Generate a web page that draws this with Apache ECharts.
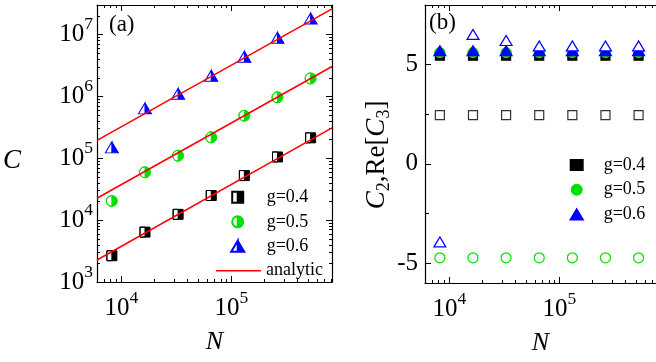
<!DOCTYPE html>
<html><head><meta charset="utf-8">
<script src="https://cdn.jsdelivr.net/npm/echarts@6/dist/echarts.min.js"></script>
<style>html,body{margin:0;padding:0;background:#fff}#c{width:656px;height:362px}</style>
</head><body><div id="c"></div>
<script>
// ---------- data ----------
const N = [8192, 16384, 32768, 65536, 131072, 262144, 524288];
// panel (a)
const C_g04 = [2660, 6400, 12400, 25000, 52500, 105000, 214000];
const C_g05 = [20400, 59400, 110000, 218000, 487000, 964000, 1950000];
const C_g06 = [150000, 640000, 1100000, 2160000, 4380000, 8870000, 18200000];
const analyticN = [6000, 820000];
const analytic04 = [2270, 309000];
const analytic05 = [22600, 3040000];
const analytic06 = [195000, 26000000];
// panel (b)
const C2_g04 = [5.45, 5.45, 5.45, 5.45, 5.45, 5.45, 5.45];
const C2_g05 = [5.6, 5.6, 5.6, 5.6, 5.6, 5.6, 5.6];
const C2_g06 = [5.7, 5.7, 5.7, 5.7, 5.7, 5.7, 5.7];
const ReC3_g04 = [2.45, 2.45, 2.45, 2.45, 2.45, 2.45, 2.45];
const ReC3_g05 = [-4.73, -4.73, -4.73, -4.73, -4.73, -4.73, -4.73];
const ReC3_g06 = [-3.93, 6.52, 6.21, 5.94, 5.94, 5.94, 5.94];
// ticks
const xMajorTicks = [1e4, 1e5];
const xMinorTicks = [7000, 8000, 9000, 20000, 30000, 40000, 50000, 60000, 70000, 80000, 90000,
  200000, 300000, 400000, 500000, 600000, 700000, 800000];
const yMajorTicksA = [1e3, 1e4, 1e5, 1e6, 1e7];
const yMinorTicksA = [2e3,3e3,4e3,5e3,6e3,7e3,8e3,9e3, 2e4,3e4,4e4,5e4,6e4,7e4,8e4,9e4,
  2e5,3e5,4e5,5e5,6e5,7e5,8e5,9e5, 2e6,3e6,4e6,5e6,6e6,7e6,8e6,9e6, 2e7];
const yMajorTicksB = [-5, 0, 5];
const yMinorTicksB = [-2.5, 2.5];
const legendA = ['g=0.4', 'g=0.5', 'g=0.6'];
const legendB = ['b:g=0.4', 'b:g=0.5', 'b:g=0.6'];

// ---------- style ----------
const FONT = 'Liberation Serif';
const BLUE = '#0000ff', GREEN = '#00e000', RED = '#ff0000', BLACK = '#000';
const HALF_SQUARE = 'path://M0,0L10,0L10,10L0,10ZM0,0L0,10L5,10L5,0Z';
const HALF_CIRCLE = 'path://M5,0A5,5,0,1,1,5,10A5,5,0,1,1,5,0ZM5,0A5,5,0,0,0,5,10L5,0Z';
const HALF_TRI = 'path://M6.5,0L13,11L0,11ZM6.5,0L0,11L6.5,11Z';
const LINE_ICON = 'path://M0,0L45,0L45,1.5L0,1.5Z';
const RICH = {
  b: {fontFamily: FONT, fontSize: 25, color: BLACK},
  s: {fontFamily: FONT, fontSize: 17.5, color: BLACK, padding: [0, 0, 20, 0]}
};
const powLabel = v => '{b|10}{s|' + Math.round(Math.log10(v)) + '}';
const pairs = (xs, ys) => xs.map((x, i) => [x, ys[i]]);

const XMIN = 6000, XMAX_A = 820000, XMAX_B = 755000;

function xAx(grid, pos, ticks, len, line, label, max, name) {
  return {
    type: 'log', logBase: 10, gridIndex: grid, position: pos, min: XMIN, max: max,
    axisLine: {show: line, onZero: false, lineStyle: {color: BLACK, width: 1.2}},
    axisTick: {show: true, inside: true, length: len, customValues: ticks, lineStyle: {color: BLACK, width: 1}},
    axisLabel: {show: label, customValues: xMajorTicks, formatter: powLabel, margin: 7, rich: RICH},
    splitLine: {show: false}, minorTick: {show: false},
    name: name || '', nameLocation: 'middle', nameGap: 47,
    nameTextStyle: {fontFamily: FONT, fontStyle: 'italic', fontSize: 26, color: BLACK}
  };
}
function yAxA(pos, ticks, len, line, label) {
  return {
    type: 'log', logBase: 10, gridIndex: 0, position: pos, min: 1000, max: 3e7,
    axisLine: {show: line, onZero: false, lineStyle: {color: BLACK, width: 1.2}},
    axisTick: {show: true, inside: true, length: len, customValues: ticks, lineStyle: {color: BLACK, width: 1}},
    axisLabel: {show: label, customValues: yMajorTicksA, formatter: powLabel, margin: 4, rich: RICH},
    splitLine: {show: false}, minorTick: {show: false}
  };
}
function yAxB(ticks, len, line, label) {
  return {
    type: 'value', gridIndex: 1, position: 'left', min: -6, max: 8,
    axisLine: {show: line, onZero: false, lineStyle: {color: BLACK, width: 1.2}},
    axisTick: {show: true, inside: true, length: len, customValues: ticks, lineStyle: {color: BLACK, width: 1}},
    axisLabel: {show: label, customValues: yMajorTicksB, margin: 7, fontFamily: FONT, fontSize: 25, color: BLACK},
    splitLine: {show: false}, minorTick: {show: false}
  };
}

const xAxes = [
  xAx(0, 'bottom', xMajorTicks, 6, true, true, XMAX_A, 'N'),
  xAx(0, 'bottom', xMinorTicks, 3, false, false, XMAX_A),
  xAx(0, 'top', xMajorTicks, 6, true, false, XMAX_A),
  xAx(0, 'top', xMinorTicks, 3, false, false, XMAX_A),
  xAx(1, 'bottom', xMajorTicks, 6, true, true, XMAX_B, 'N'),
  xAx(1, 'bottom', xMinorTicks, 3, false, false, XMAX_B),
  xAx(1, 'top', xMajorTicks, 6, true, false, XMAX_B),
  xAx(1, 'top', xMinorTicks, 3, false, false, XMAX_B)
];
const yA0 = yAxA('left', yMajorTicksA, 6, true, true);
yA0.name = '\nC';
yA0.nameLocation = 'middle';
yA0.nameRotate = 0;
yA0.nameGap = 76;
yA0.nameTextStyle = {fontFamily: FONT, fontStyle: 'italic', fontSize: 27, lineHeight: 35, color: BLACK};
const yB0 = yAxB(yMajorTicksB, 6, true, true);
yB0.name = '{i|C}{s|2}{n|,Re[}{i|C}{s|3}{n|]}';
yB0.nameLocation = 'middle';
yB0.nameRotate = 90;
yB0.nameGap = 30;
yB0.nameTextStyle = {
  color: BLACK, padding: [0, 22, 0, 0],
  rich: {
    i: {fontFamily: FONT, fontStyle: 'italic', fontSize: 27, color: BLACK},
    n: {fontFamily: FONT, fontSize: 27, color: BLACK},
    s: {fontFamily: FONT, fontSize: 18, color: BLACK, padding: [14, 0, 0, 0]}
  }
};
const yAxes = [
  yA0,
  yAxA('left', yMinorTicksA, 3, false, false),
  yAxA('right', yMajorTicksA, 6, true, false),
  yAxA('right', yMinorTicksA, 3, false, false),
  yB0,
  yAxB(yMinorTicksB, 4, false, false)
];

const halfSeries = (name, ys, sym, size, color) => ({
  type: 'scatter', name, xAxisIndex: 0, yAxisIndex: 0, data: pairs(N, ys),
  symbol: sym, symbolSize: size,
  itemStyle: {color: color, borderColor: color, borderWidth: 1, opacity: 1}, z: 3
});
const lineSeries = ys => ({
  type: 'line', name: 'analytic', xAxisIndex: 0, yAxisIndex: 0, data: pairs(analyticN, ys),
  symbol: 'none', lineStyle: {color: RED, width: 1.5}, itemStyle: {color: RED}, z: 4, clip: true
});
const bSeries = (name, ys, sym, size, fill, border, z) => ({
  type: 'scatter', name, xAxisIndex: 4, yAxisIndex: 4, data: pairs(N, ys),
  symbol: sym, symbolSize: size,
  itemStyle: {color: fill, borderColor: border, borderWidth: 1.2, opacity: 1}, z: z
});
const legendText = pad => ({fontFamily: FONT, fontSize: 18, color: BLACK, lineHeight: 18, padding: [0, 0, 0, pad]});

const option = {
  animation: false,
  backgroundColor: '#fff',
  grid: [
    {left: 97, top: 5, width: 235, height: 277, containLabel: false, outerBoundsMode: 'none'},
    {left: 425, top: 5, width: 231, height: 278, containLabel: false, outerBoundsMode: 'none'}
  ],
  xAxis: xAxes,
  yAxis: yAxes,
  title: [
    {text: '(a)', left: 109, top: 13, padding: 0, textStyle: {fontFamily: FONT, fontSize: 23, fontWeight: 'normal', color: BLACK}},
    {text: '(b)', left: 429, top: 11, padding: 0, textStyle: {fontFamily: FONT, fontSize: 23, fontWeight: 'normal', color: BLACK}}
  ],
  legend: [
    {orient: 'vertical', left: 230.2, top: 188.3, padding: 0, itemWidth: 13, itemHeight: 11, itemGap: 6.5,
     data: legendA, selectedMode: false, textStyle: legendText(17.5)},
    {orient: 'vertical', left: 216, top: 261.7, padding: 0, itemWidth: 45, itemHeight: 12,
     data: [{name: 'analytic', icon: LINE_ICON}], selectedMode: false, textStyle: legendText(0)},
    {orient: 'vertical', left: 569.7, top: 156, padding: 0, itemWidth: 12, itemHeight: 10, itemGap: 6.7,
     data: legendB, selectedMode: false, formatter: n => n.replace('b:', ''), textStyle: legendText(16)}
  ],
  series: [
    halfSeries('g=0.4', C_g04, HALF_SQUARE, [10, 10], BLACK),
    halfSeries('g=0.5', C_g05, HALF_CIRCLE, [11, 11], GREEN),
    halfSeries('g=0.6', C_g06, HALF_TRI, [13, 11], BLUE),
    lineSeries(analytic04),
    lineSeries(analytic05),
    lineSeries(analytic06),
    bSeries('b:g=0.4', C2_g04, 'rect', [9, 9], BLACK, BLACK, 3),
    bSeries('b:g=0.5', C2_g05, 'circle', 10, GREEN, GREEN, 4),
    bSeries('b:g=0.6', C2_g06, 'triangle', [12, 10], BLUE, BLUE, 5),
    bSeries('ReC3 g=0.4', ReC3_g04, 'rect', [9, 9], '#fff', '#333', 3),
    bSeries('ReC3 g=0.5', ReC3_g05, 'circle', 10, '#fff', GREEN, 4),
    bSeries('ReC3 g=0.6', ReC3_g06, 'triangle', [12, 10], '#fff', BLUE, 6)
  ]
};
const chart = echarts.init(document.getElementById('c'));
chart.setOption(option);
</script></body></html>
